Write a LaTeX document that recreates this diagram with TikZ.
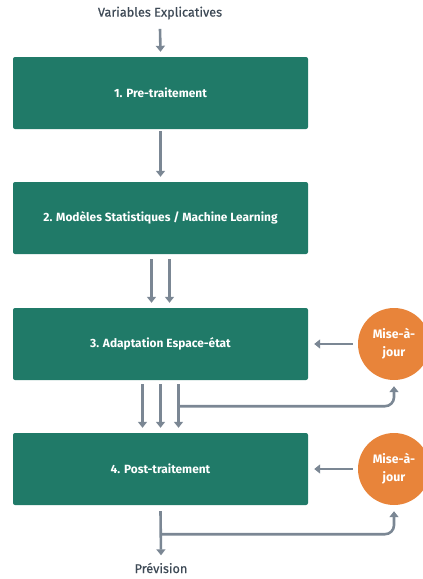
\documentclass[tikz,border=0pt]{standalone}
\usepackage{fontspec}
\setmainfont{Fira Sans}
\newfontfamily\lblfont{Fira Sans}[FakeBold=0.6]
\usetikzlibrary{arrows.meta,positioning,calc}
\definecolor{stagegreen}{HTML}{207A68}
\definecolor{majorange}{HTML}{E8843A}
\definecolor{flowgray}{HTML}{7B8794}
\definecolor{labelgray}{HTML}{3E4A56}
\tikzset{
  stage/.style={fill=stagegreen, rounded corners=2pt, minimum width=295pt, minimum height=72pt,
    text=white, font=\bfseries\fontsize{11.9}{13}\selectfont},
  majcircle/.style={circle, fill=majorange, minimum size=72pt, inner sep=0pt, text=white,
    align=center, font=\bfseries\fontsize{12.3}{18}\selectfont},
  lbl/.style={text=labelgray, font=\lblfont\fontsize{12.7}{14}\selectfont},
  flow/.style={draw=flowgray, line width=2.6pt, -{Triangle[width=9pt,length=6pt]}},
  feedback/.style={flow, rounded corners=9pt}
}
\begin{document}
\begin{tikzpicture}[x=1pt,y=-1pt]
\useasboundingbox (0,0) rectangle (423,579);
% Draw the four stages
\node[stage] (s1) at (160.5,93) {1. Pre-traitement};
\node[stage] (s2) at (160.5,218) {2. Modèles Statistiques / Machine Learning};
\node[stage] (s3) at (160.5,344) {3. Adaptation Espace-état};
\node[stage] (s4) at (160.5,469) {4. Post-traitement};
% The update circles on the right side
\node[majcircle] (m3) at (394,344) {Mise-à-\\jour};
\node[majcircle] (m4) at (394,469) {Mise-à-\\jour};
% Input and output
\node[lbl] (vars) at (160,13) {Variables Explicatives};
\node[lbl] (prev) at (161,568) {Prévision};

% Arrows between the stages
\draw[flow] ([yshift=-6pt]vars.south) -- ([yshift=5pt]s1.north);
\draw[flow] ([yshift=-2pt]s1.south) -- ([yshift=5pt]s2.north);
\foreach \dx in {-9,9}
{
  \draw[flow] ([xshift=\dx pt,yshift=-5pt]s2.south) -- ([xshift=\dx pt,yshift=5pt]s3.north);
}
\foreach \dx in {-18,0,18}
{
  \draw[flow] ([xshift=\dx pt,yshift=-4pt]s3.south) -- ([xshift=\dx pt,yshift=5pt]s4.north);
}
\draw[flow] ([yshift=-6pt]s4.south) -- ([yshift=4pt]prev.north);

% Feedback to the update circles and back into the stages
\coordinate (f3) at ([xshift=18pt,yshift=-26pt]s3.south);
\coordinate (f4) at ([yshift=-29pt]s4.south);
\draw[feedback] (f3) -| ([yshift=-6pt]m3.south);
\draw[feedback] (f4) -| ([yshift=-6pt]m4.south);
\draw[flow] ([xshift=-5pt]m3.west) -- ([xshift=6pt]s3.east);
\draw[flow] ([xshift=-5pt]m4.west) -- ([xshift=6pt]s4.east);
\end{tikzpicture}
\end{document}
